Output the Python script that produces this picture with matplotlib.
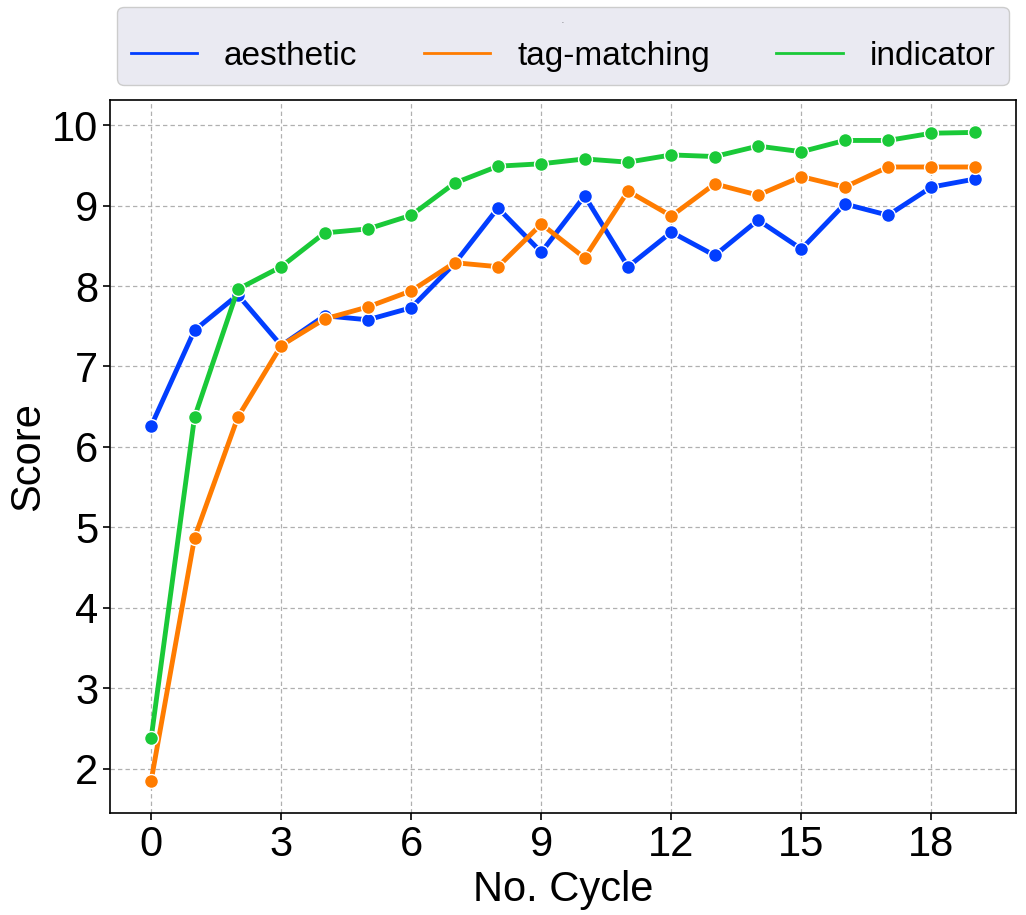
import matplotlib
matplotlib.use("Agg")
import matplotlib.pyplot as plt
from matplotlib.lines import Line2D

plt.rcParams['font.family'] = ['Liberation Sans', 'DejaVu Sans']

cycles = list(range(20))
aesthetic = [6.26, 7.45, 7.89, 7.26, 7.63, 7.58, 7.73, 8.28, 8.97, 8.42,
             9.12, 8.24, 8.67, 8.38, 8.82, 8.46, 9.02, 8.88, 9.23, 9.33]
tag_matching = [1.85, 4.87, 6.37, 7.26, 7.59, 7.74, 7.94, 8.29, 8.24, 8.77,
                8.35, 9.18, 8.87, 9.27, 9.13, 9.36, 9.23, 9.48, 9.48, 9.48]
indicator = [2.38, 6.37, 7.96, 8.24, 8.66, 8.71, 8.88, 9.28, 9.49, 9.52,
             9.58, 9.54, 9.63, 9.61, 9.74, 9.67, 9.81, 9.81, 9.90, 9.91]
series_names = ["aesthetic", "tag-matching", "indicator"]
colors = ["#023eff", "#ff7c00", "#1ac938"]
xticks = [0, 3, 6, 9, 12, 15, 18]
yticks = [2, 3, 4, 5, 6, 7, 8, 9, 10]

fig = plt.figure(figsize=(10.26, 9.15), dpi=100)
ax = fig.add_axes([110/1026, 1-813/915, (1016-110)/1026, (813-100)/915])

for vals, c in zip([aesthetic, tag_matching, indicator], colors):
    ax.plot(cycles, vals, color=c, lw=3.5, marker='o', markersize=10,
            markeredgecolor='white', markeredgewidth=1.0, zorder=3)

ax.set_xticks(xticks)
ax.set_yticks(yticks)
ax.tick_params(labelsize=30, length=5, width=1.2, colors='black')
ax.grid(True, linestyle=(0, (3.5, 2.5)), color='#b0b0b0', linewidth=0.9)
ax.set_axisbelow(True)
for s in ax.spines.values():
    s.set_color('black')
    s.set_linewidth(1.2)
ax.set_xlabel("No. Cycle", fontsize=30, labelpad=4)
ax.set_ylabel("Score", fontsize=30, labelpad=2.5)

handles = [Line2D([0], [0], color=c, lw=2) for c in colors]
leg = ax.legend(handles, series_names, loc='lower left', ncol=3,
                bbox_to_anchor=(0.008, 1.021, 0.984, 0.1), mode='expand',
                fontsize=24, title='---', title_fontsize=2,
                frameon=True, fancybox=True, borderaxespad=0,
                handlelength=2.0, handletextpad=0.8)
leg.get_frame().set_facecolor('#eaeaf2')
leg.get_frame().set_edgecolor('#cccccc')
leg.get_frame().set_alpha(1)

fig.savefig("out.png", dpi=100)
